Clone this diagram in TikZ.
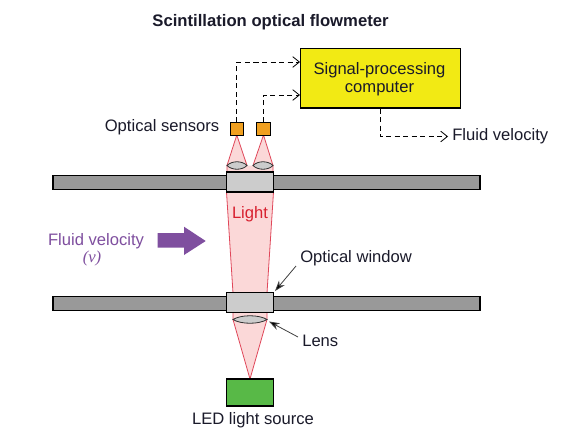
\documentclass[tikz,border=0pt]{standalone}
\usepackage{fontspec}
\setmainfont{Liberation Sans}
\newfontfamily\serifit{Liberation Serif}
\usetikzlibrary{arrows.meta,positioning,shapes.geometric}
\definecolor{barg}{HTML}{999999}
\definecolor{wing}{HTML}{CCCCCC}
\definecolor{beamf}{HTML}{FBD8D8}
\definecolor{beaml}{HTML}{E0475A}
\definecolor{sens}{HTML}{F0A020}
\definecolor{comp}{HTML}{F2EA14}
\definecolor{ledg}{HTML}{58B947}
\definecolor{purp}{HTML}{7F4F9F}
\definecolor{lred}{HTML}{D8202F}
\definecolor{txt}{HTML}{1A1A2A}
\tikzset{
  x=0.75pt,y=-0.75pt,
  lbl/.style={font=\fontsize{12.45}{14}\selectfont,text=txt,inner sep=0pt},
  blk/.style={draw=black,line width=0.9pt,inner sep=0pt,outer sep=0pt,anchor=north west},
  beam/.style={fill=beamf,draw=none},
  beamedge/.style={draw=beaml,line width=0.6pt},
  lensg/.style={draw=black!80,fill=wing,line width=0.6pt},
  dashconn/.style={draw=black,line width=0.75pt,dash pattern=on 3.8pt off 2.6pt,-{Straight Barb[length=5pt,width=8pt,line width=0.6pt]}},
  leader/.style={draw=black!75,line width=0.6pt,-{Stealth[length=8pt,width=5.5pt,fill=black]}}
}
\begin{document}
\begin{tikzpicture}
\useasboundingbox (0,0) rectangle (567,436);
\fill[white] (0,0) rectangle (567,436);
% beams
\fill[beam] (226.5,192) -- (233,293) -- (267,293) -- (273.5,192) -- cycle;
\draw[beamedge] (226.5,192) -- (233,293) (273.5,192) -- (267,293);
\fill[beam] (233,312) -- (233,319.5) -- (250,379) -- (267,319.5) -- (267,312) -- cycle;
\draw[beamedge] (233,312) -- (233,319.5) -- (250,379) -- (267,319.5) -- (267,312);
\fill[beam] (227,172) -- (227,165.5) -- (236.8,135) -- (247,165.5) -- (253,165.5) -- (263.5,135) -- (273,165.5) -- (273,172) -- cycle;
\draw[beamedge] (227,172) -- (227,165.5) -- (236.8,135) -- (247,165.5) (253,165.5) -- (263.5,135) -- (273,165.5) -- (273,172);
% bars
\node[blk,fill=barg,minimum width=320.3pt,minimum height=10.4pt] (bartop) at (53,175.5) {};
\node[blk,fill=barg,minimum width=320.3pt,minimum height=10.2pt] (barbot) at (53,296.5) {};
\node[blk,fill=wing,minimum width=35pt,minimum height=15pt] (wintop) at (226.5,172) {};
\node[blk,fill=wing,minimum width=35pt,minimum height=15pt] (winbot) at (226.5,292.5) {};
% lenses
\draw[lensg] (227,165.5) .. controls (232,160.5) and (242,160.5) .. (247,165.5) .. controls (242,170.5) and (232,170.5) .. cycle;
\draw[lensg] (253,165.5) .. controls (258,160.5) and (268,160.5) .. (273,165.5) .. controls (268,170.5) and (258,170.5) .. cycle;
\draw[lensg] (233,319.5) .. controls (241,314.5) and (259,314.5) .. (267,319.5) .. controls (259,324.5) and (241,324.5) .. cycle;
% sensors
\node[blk,fill=sens,minimum width=10pt,minimum height=10pt] (sa) at (230.3,122.3) {};
\node[blk,fill=sens,minimum width=10.5pt,minimum height=10pt] (sb) at (256.5,122.3) {};
% LED
\node[blk,fill=ledg,minimum width=35pt,minimum height=20.3pt] (led) at (226.5,379) {};
% computer
\node[blk,fill=comp,minimum width=120pt,minimum height=44.5pt] (cpu) at (300.5,48.7) {};
\node[lbl,align=center,font=\fontsize{12.45}{13.6}\selectfont] (cputxt) at (379.5,79) {Signal-processing\\computer};
% dashed
\coordinate (ia) at (300,62);
\coordinate (ib) at (300,95);
\coordinate (oa) at (380,108.5);
\node[lbl,anchor=west] (fv) at (452,136.5) {Fluid velocity};
\draw[dashconn] (sa.north) |- (ia);
\draw[dashconn] (sb.north) |- (ib);
\draw[dashconn,shorten >=3pt] (oa) |- (fv.west);
% labels
\node[font=\fontsize{12.5}{14}\bfseries\selectfont,text=txt,inner sep=0pt] (title) at (270.5,22) {Scintillation optical flowmeter};
\node[lbl,anchor=east] (ostxt) at (219.5,127) {Optical sensors};
\node[lbl,text=lred] (lt) at (250,214) {Light};
\node[lbl,text=purp] (fvl) at (96,241) {Fluid velocity};
\node[inner sep=0pt,text=purp,font=\serifit\itshape\fontsize{12.5}{14}\selectfont] (nu) at (92,258.5) {(v)};
\fill[purp] (157.7,233) -- (184,233) -- (184,226.7) -- (205.7,241) -- (184,255) -- (184,247.7) -- (157.7,247.7) -- cycle;
\node[lbl,anchor=west] (owtxt) at (300,258) {Optical window};
\node[lbl,anchor=west] (lenstxt) at (302,340.5) {Lens};
\node[lbl] (ledtxt) at (253,420.5) {LED light source};
\coordinate (owfrom) at (296,266);
\coordinate (owto) at (275,291);
\coordinate (lfrom) at (298,337);
\coordinate (lto) at (269,321.5);
\draw[leader] (owfrom) -- (owto);
\draw[leader] (lfrom) -- (lto);
\end{tikzpicture}
\end{document}
